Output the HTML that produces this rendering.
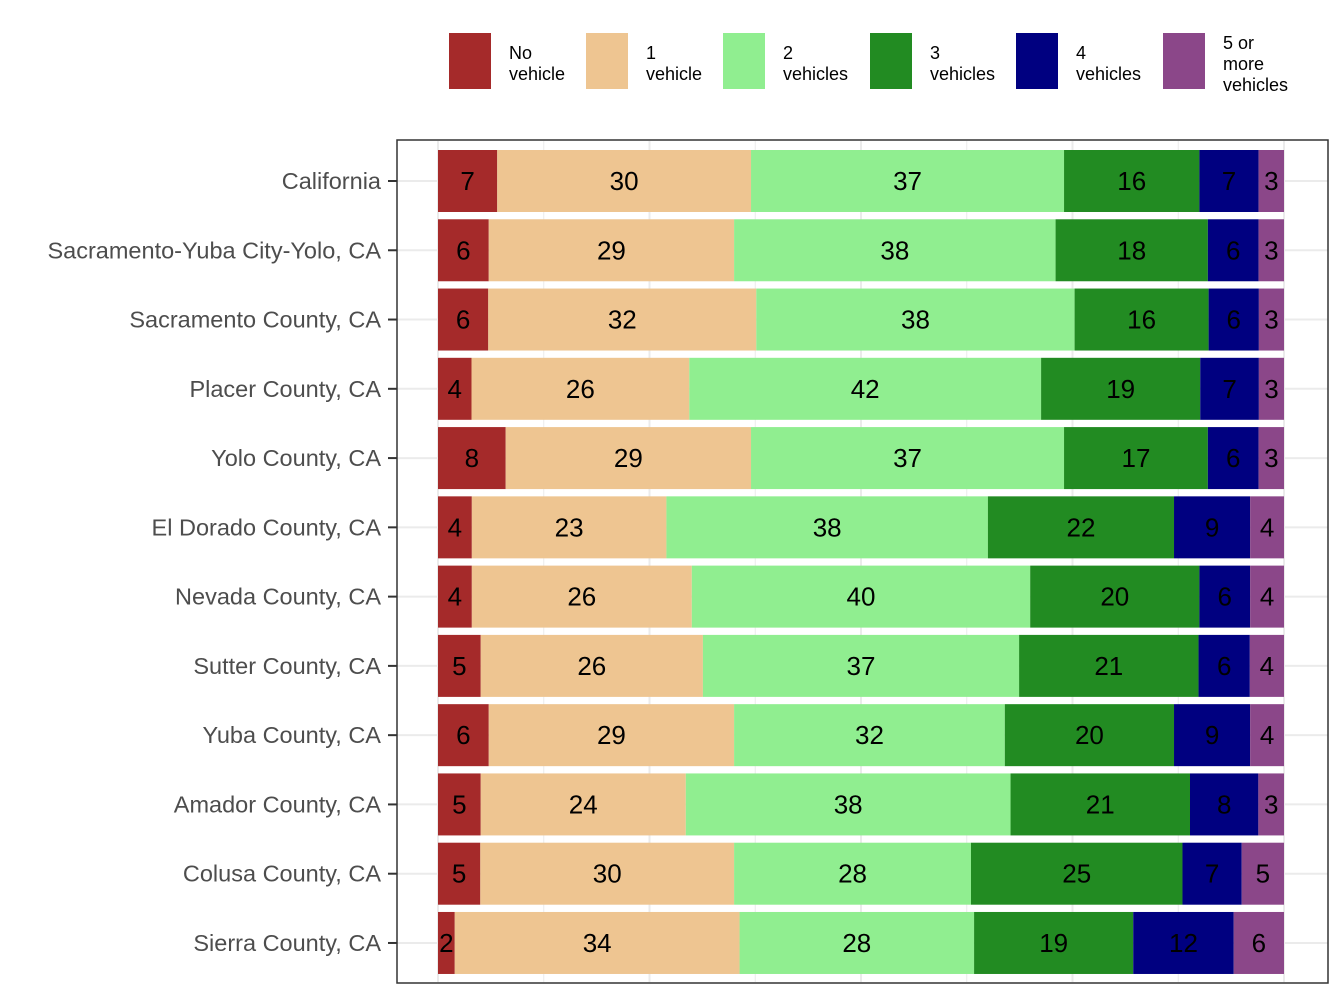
<!DOCTYPE html>
<html><head><meta charset="utf-8"><style>
body{margin:0;background:#fff}
svg{display:block;font-family:"Liberation Sans",Arial,sans-serif}
</style></head><body>
<svg id="chart" width="1344" height="1008" viewBox="0 0 1344 1008" xmlns="http://www.w3.org/2000/svg">
<g id="legend"></g>
<g id="grid"></g>
<g id="bars"></g>
<g id="yaxis"></g>
<rect x="397" y="140" width="931" height="843" fill="none" stroke="#333" stroke-width="1.5"/>
</svg>
<script>
const categories=["California","Sacramento-Yuba City-Yolo, CA","Sacramento County, CA","Placer County, CA","Yolo County, CA","El Dorado County, CA","Nevada County, CA","Sutter County, CA","Yuba County, CA","Amador County, CA","Colusa County, CA","Sierra County, CA"];
const seriesNames=[["No","vehicle"],["1","vehicle"],["2","vehicles"],["3","vehicles"],["4","vehicles"],["5 or","more","vehicles"]];
const noVehicle=[7,6,6,4,8,4,4,5,6,5,5,2];
const oneVehicle=[30,29,32,26,29,23,26,26,29,24,30,34];
const twoVehicles=[37,38,38,42,37,38,40,37,32,38,28,28];
const threeVehicles=[16,18,16,19,17,22,20,21,20,21,25,19];
const fourVehicles=[7,6,6,7,6,9,6,6,9,8,7,12];
const fivePlus=[3,3,3,3,3,4,4,4,4,3,5,6];
const colors=["#A52A2A","#EEC591","#90EE90","#228B22","#000080","#8B4789"];
const series=[noVehicle,oneVehicle,twoVehicles,threeVehicles,fourVehicles,fivePlus];
const NS="http://www.w3.org/2000/svg";
function mk(t,a,p){const e=document.createElementNS(NS,t);for(const k in a)e.setAttribute(k,a[k]);p.appendChild(e);return e;}
const x0=438,x1=1284;
const xs=v=>x0+v*(x1-x0);
const ys=i=>181+i*69.27;
const bh=62;
const grid=document.getElementById('grid');
for(let k=0;k<=8;k++){const l=mk('line',{x1:xs(k/8),x2:xs(k/8),y1:141,y2:982,stroke:'#ebebeb','stroke-width':k%2?1:2},grid);
}
categories.forEach((c,i)=>{const y=ys(i);
 const l=mk('line',{x1:397,x2:1328,y1:y,y2:y,stroke:'#ebebeb','stroke-width':2},grid);
 });
const bars=document.getElementById('bars');
categories.forEach((c,i)=>{
 let tot=0;series.forEach(s=>tot+=s[i]);
 let cum=0;const y=ys(i);
 series.forEach((s,j)=>{
  const a=xs(cum/tot),b=xs((cum+s[i])/tot);cum+=s[i];
  const r=mk('rect',{x:a,y:y-bh/2,width:b-a,height:bh,fill:colors[j]},bars);
  
  const t=mk('text',{x:(a+b)/2,y:y+9,'text-anchor':'middle','font-size':26,fill:'#000'},bars);
  t.textContent=s[i];
  
 });
});
const ya=document.getElementById('yaxis');
categories.forEach((c,i)=>{const y=ys(i);
 const tk=mk('line',{x1:388,x2:397,y1:y,y2:y,stroke:'#333','stroke-width':2},ya);
 
 const t=mk('text',{x:381,y:y+8,'text-anchor':'end','font-size':23.5,fill:'#4d4d4d'},ya);
 t.textContent=c;
 
});
const lg=document.getElementById('legend');
const lx=[449,586,723,870,1016,1163];
seriesNames.forEach((n,j)=>{
 const r=mk('rect',{x:lx[j],y:33,width:42,height:56,fill:colors[j]},lg);
 
 const t=mk('text',{x:lx[j]+60,'font-size':18,fill:'#000'},lg);
 
 const y0=n.length===3?49:59;
 n.forEach((w,k)=>{const ts=mk('tspan',{x:lx[j]+60,y:y0+k*21},t);ts.textContent=w;});
});
</script>
</body></html>
